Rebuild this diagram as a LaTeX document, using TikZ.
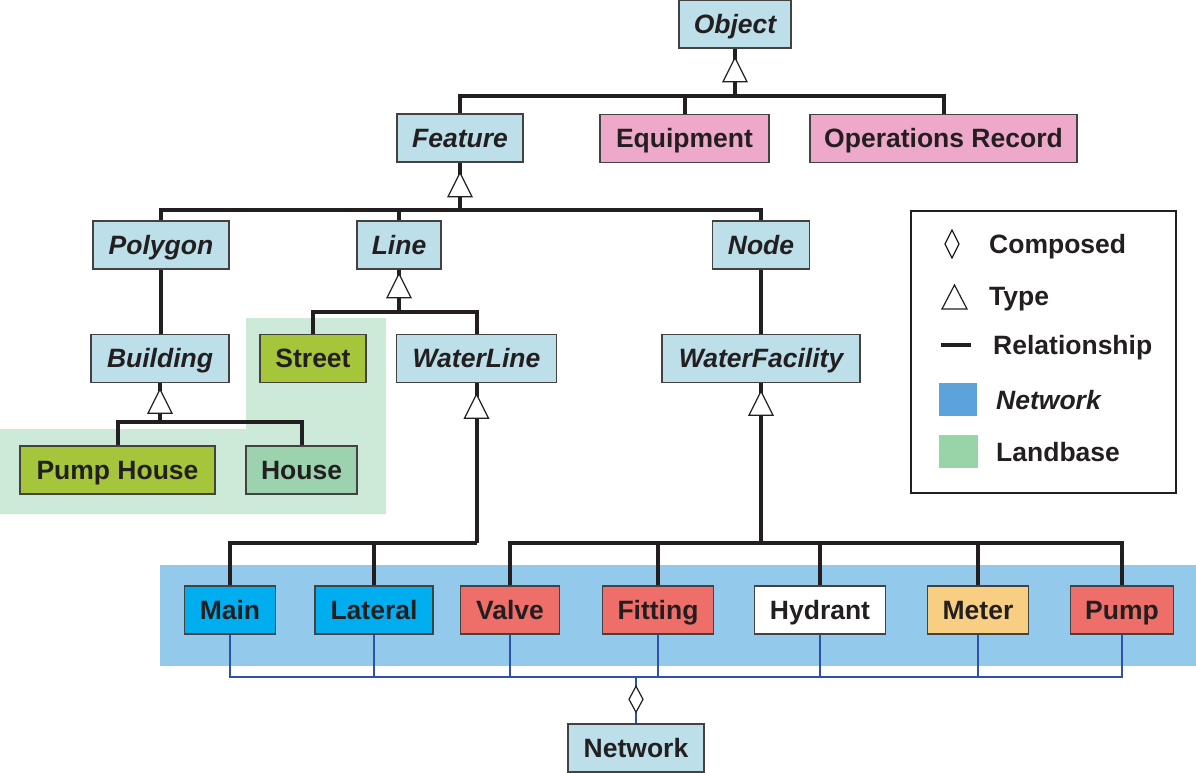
\documentclass[tikz,border=0pt]{standalone}
\usepackage{fontspec}
\setmainfont{Liberation Sans}
\usetikzlibrary{calc}
\definecolor{ink}{HTML}{231F20}
\definecolor{cls}{HTML}{BCDFE9}
\definecolor{pinkc}{HTML}{EEA8CA}
\definecolor{lime}{HTML}{A5C63B}
\definecolor{housec}{HTML}{9CD3AE}
\definecolor{cyanc}{HTML}{00AEEF}
\definecolor{redc}{HTML}{EE6E6A}
\definecolor{meterc}{HTML}{F8CF82}
\definecolor{bandc}{HTML}{93CAEC}
\definecolor{landc}{HTML}{CDE9D8}
\definecolor{compc}{HTML}{2E52AC}
\definecolor{legblue}{HTML}{5BA3DA}
\definecolor{leggreen}{HTML}{98D4A8}
\begin{document}
\begin{tikzpicture}[x=1pt,y=-1pt,
  box/.style={draw=ink!85, line width=1.5pt, minimum height=48pt, inner sep=0pt, text=ink,
    text height=22pt, text depth=3.4pt,
    font=\bfseries\fontsize{26.5}{30}\selectfont},
  ibox/.style={box, fill=cls, font=\bfseries\itshape\fontsize{26.5}{30}\selectfont},
  rel/.style={draw=ink, line width=4pt},
  comp/.style={draw=compc, line width=1.6pt},
  tri/.style={draw=ink, fill=white, line width=1.3pt, line join=miter},
  leg/.style={anchor=west, inner sep=0pt, text=ink, text height=22pt, text depth=3.4pt,
    font=\bfseries\fontsize{26.5}{30}\selectfont}]
\useasboundingbox (0,0) rectangle (1196,773);
% backgrounds
\fill[bandc] (160,565) rectangle (1196,666);
\fill[landc] (0,429) -- (246,429) -- (246,318) -- (386,318) -- (386,514) -- (0,514) -- cycle;
% nodes
\node[ibox, minimum width=112pt] (obj) at (735,24) {Object};
\node[ibox, minimum width=126pt] (feat) at (460,138) {Feature};
\node[box, fill=pinkc, minimum width=169pt] (equip) at (684.5,138.5) {Equipment};
\node[box, fill=pinkc, minimum width=267pt] (ops) at (943.5,138.5) {Operations Record};
\node[ibox, minimum width=136pt] (poly) at (161,245) {Polygon};
\node[ibox, minimum width=84pt] (line) at (399,245) {Line};
\node[ibox, minimum width=97pt] (nodeN) at (761,245) {Node};
\node[ibox, minimum width=138pt] (bldg) at (160,358.5) {Building};
\node[box, fill=lime, minimum width=106pt] (street) at (313,358.5) {Street};
\node[ibox, minimum width=160pt] (wline) at (476.5,358.5) {WaterLine};
\node[ibox, minimum width=198pt] (wfac) at (761,358.5) {WaterFacility};
\node[box, fill=lime, minimum width=195pt] (pumph) at (117.5,470) {Pump House};
\node[box, fill=housec, minimum width=111pt] (house) at (301.5,470) {House};
\node[box, fill=cyanc, minimum width=91pt] (main) at (230,610) {Main};
\node[box, fill=cyanc, minimum width=118pt] (lat) at (374,610) {Lateral};
\node[box, fill=redc, minimum width=99pt] (valve) at (510,610) {Valve};
\node[box, fill=redc, minimum width=111pt] (fitting) at (658,610) {Fitting};
\node[box, fill=white, minimum width=131pt] (hydrant) at (820,610) {Hydrant};
\node[box, fill=meterc, minimum width=101pt] (meter) at (978,610) {Meter};
\node[box, fill=redc, minimum width=103pt] (pump) at (1122,610) {Pump};
\node[box, fill=cls, minimum width=136pt] (network) at (636,748) {Network};
% type relations
\draw[rel] (obj.south) -- ++(0,47) coordinate (oj);
\draw[rel] (feat.north) |- (oj) -| (ops.north);
\draw[rel] (equip.north) -- (equip.north |- oj);
\draw[tri] ($(obj.south)+(0,9)$) -- ++(12,24) -- ++(-24,0) -- cycle;

\draw[rel] (feat.south) -- ++(0,47) coordinate (fj);
\draw[rel] (poly.north) |- (fj) -| (nodeN.north);
\draw[rel] (line.north) -- (line.north |- fj);
\draw[tri] ($(feat.south)+(0,10)$) -- ++(12,24) -- ++(-24,0) -- cycle;

\draw[rel] (line.south) -- ++(0,42) coordinate (lj);
\draw[rel] (street.north) |- (lj) -| (wline.north);
\draw[tri] ($(line.south)+(0,4)$) -- ++(12,24) -- ++(-24,0) -- cycle;

\draw[rel] (poly.south) -- (poly.south |- bldg.north);

\draw[rel] (bldg.south) -- ++(0,39) coordinate (bj);
\draw[rel] (pumph.north) |- (bj) -| (house.north);
\draw[tri] ($(bldg.south)+(0,6)$) -- ++(12,24) -- ++(-24,0) -- cycle;

\draw[rel] (nodeN.south) -- (wfac.north);

\draw[rel] (wline.south) -- ++(0,160) coordinate (wlj);
\draw[rel] (wlj) -| (main.north);
\draw[rel] (lat.north) -- (lat.north |- wlj);
\draw[tri] ($(wline.south)+(0,11)$) -- ++(12,24) -- ++(-24,0) -- cycle;

\draw[rel] (wfac.south) -- ++(0,160) coordinate (wfj);
\draw[rel] (valve.north) |- (wfj) -| (pump.north);
\draw[rel] (fitting.north) -- (fitting.north |- wfj);
\draw[rel] (hydrant.north) -- (hydrant.north |- wfj);
\draw[rel] (meter.north) -- (meter.north |- wfj);
\draw[tri] ($(wfac.south)+(0,8)$) -- ++(12,24) -- ++(-24,0) -- cycle;
% composition
\draw[comp] (network.north) -- ++(0,-46) coordinate (cj);
\draw[comp] (main.south) |- (cj) -| (pump.south);
\draw[comp] (lat.south) -- (lat.south |- cj);
\draw[comp] (valve.south) -- (valve.south |- cj);
\draw[comp] (fitting.south) -- (fitting.south |- cj);
\draw[comp] (hydrant.south) -- (hydrant.south |- cj);
\draw[comp] (meter.south) -- (meter.south |- cj);
\draw[draw=ink, fill=white, line width=1.2pt] ($(cj)+(0,9)$) -- ++(7,13) -- ++(-7,13) -- ++(-7,-13) -- cycle;
% legend
\draw[draw=ink, line width=1.2pt] (911,211) rectangle (1176,493);
\draw[draw=ink, line width=1.2pt] (952,230) -- (959,244) -- (952,258) -- (945,244) -- cycle;
\node[leg] (lcomp) at (989,244) {Composed};
\draw[draw=ink, line width=1.2pt, line join=miter] (942,309) -- (954.5,285) -- (967,309) -- cycle;
\node[leg] (ltype) at (989,296) {Type};
\draw[draw=ink, line width=4pt] (941,345) -- (971,345);
\node[leg] (lrel) at (993,345) {Relationship};
\fill[legblue] (939,383) rectangle (977,416);
\node[leg, font=\bfseries\itshape\fontsize{26.5}{30}\selectfont] (lnet) at (996,400) {Network};
\fill[leggreen] (939,435) rectangle (978,468);
\node[leg] (lland) at (996,452) {Landbase};
\end{tikzpicture}
\end{document}
